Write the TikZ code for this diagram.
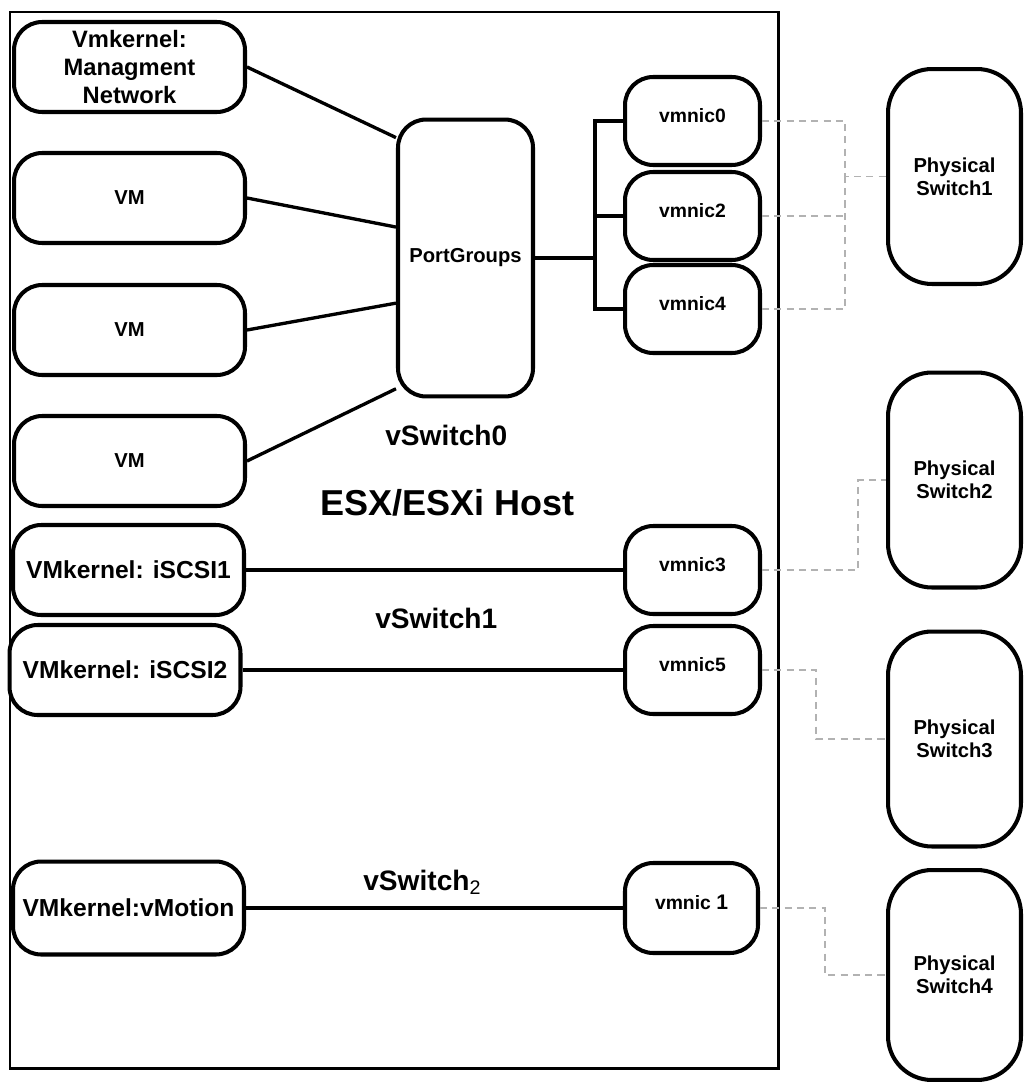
\documentclass[tikz,border=0pt]{standalone}
\usepackage{fontspec}
\setmainfont{Liberation Sans}
\newcommand{\nictext}[1]{\raisebox{6pt}{#1}}
\tikzset{
  box/.style={draw, line width=2.3pt, rounded corners=16pt, align=center, inner sep=2pt},
  leftbox/.style={box, minimum width=4.62cm, minimum height=1.8cm},
  vmbox/.style={leftbox, font=\bfseries\fontsize{11.5}{13}\selectfont},
  kernbox/.style={leftbox, font=\bfseries\fontsize{14}{17}\selectfont},
  pgbox/.style={box, minimum width=2.7cm, minimum height=5.54cm, font=\bfseries\fontsize{11.5}{14}\selectfont},
  nicbox/.style={box, minimum width=2.7cm, minimum height=1.76cm, font=\bfseries\fontsize{11}{13}\selectfont},
  physbox/.style={box, rounded corners=25pt, minimum width=2.66cm, minimum height=4.3cm, font=\bfseries\fontsize{11.5}{13}\selectfont},
  link/.style={line width=1.9pt},
  uplink/.style={gray!60, line width=0.7pt, dash pattern=on 4pt off 3pt},
  swlabel/.style={anchor=base west, inner sep=0pt, font=\bfseries\fontsize{16}{19}\selectfont},
  hostlabel/.style={anchor=base west, inner sep=0pt, font=\bfseries\fontsize{20.5}{24}\selectfont}
}
\begin{document}
\begin{tikzpicture}[x=0.02cm, y=-0.02cm]
    \useasboundingbox (0,0) rectangle (1027,1082);
    % Host frame
    \draw[line width=1.7pt] (10,12) rectangle (778,1068);

    % vSwitch0
    \node[leftbox, font=\bfseries\fontsize{13.5}{16}\selectfont] (mgmt) at (129.5,67) {Vmkernel:\\Managment\\Network};
    \node[vmbox] (vma) at (129.5,198) {VM};
    \node[vmbox] (vmb) at (129.5,330) {VM};
    \node[vmbox] (vmc) at (129.5,461) {VM};
    \node[pgbox] (pg) at (465.5,258) {PortGroups};
    \node[nicbox] (nic0) at (692.5,121) {\nictext{vmnic0}};
    \node[nicbox] (nic2) at (692.5,216) {\nictext{vmnic2}};
    \node[nicbox] (nic4) at (692.5,309) {\nictext{vmnic4}};
    \draw[link] (mgmt.east) -- (pg.120);
    \draw[link] (vma.east) -- (pg.156);
    \draw[link] (vmb.east) -- (pg.213);
    \draw[link] (vmc.east) -- (pg.242);
    \coordinate (bus) at (595,258);
    \draw[link] (pg.east) -- (bus);
    \draw[link] (nic0.west) -| (bus) |- (nic4.west);
    \draw[link] (nic2.west) -- (nic2.west -| bus);
    \node[swlabel] (vsw0) at (385,445) {vSwitch0};
    \node[hostlabel] (host) at (320,515) {ESX/ESXi Host};

    % vSwitch1
    \node[kernbox] (iscsia) at (128.5,570) {VMkernel: iSCSI1};
    \node[kernbox] (iscsib) at (125,670) {VMkernel: iSCSI2};
    \node[nicbox] (nic3) at (692.5,570) {\nictext{vmnic3}};
    \node[nicbox] (nic5) at (692.5,670) {\nictext{vmnic5}};
    \draw[link] (iscsia.east) -- (nic3.west);
    \draw[link] (iscsib.east) -- (nic5.west);
    \node[swlabel] (vsw1) at (375,628) {vSwitch1};

    % vSwitch2
    \node[kernbox, minimum height=1.86cm] (vmotion) at (128.5,908) {VMkernel:vMotion};
    \node[nicbox, minimum width=2.66cm, minimum height=1.8cm] (nic1) at (691.5,908) {\nictext{vmnic {\large 1}}};
    \draw[link] (vmotion.east) -- (nic1.west);
    \node[swlabel] (vsw2) at (363,890) {vSwitch\textsubscript{\mdseries 2}};

    % Physical switches
    \node[physbox] (psa) at (954.5,176.5) {Physical\\Switch1};
    \node[physbox] (psb) at (954.5,480) {Physical\\Switch2};
    \node[physbox] (psc) at (954.5,739) {Physical\\Switch3};
    \node[physbox, minimum height=4.2cm] (psd) at (954.5,975) {Physical\\Switch{\large 4}};

    % Uplinks
    \coordinate (upa) at (845,176.5);
    \coordinate (upb) at (858,480);
    \coordinate (upc) at (816,739);
    \coordinate (upd) at (825,975);
    \draw[uplink] (nic0.east) -| (upa) -- (psa.west);
    \draw[uplink] (nic4.east) -| (upa);
    \draw[uplink] (nic2.east) -- (nic2.east -| upa);
    \draw[uplink] (nic3.east) -| (upb) -- (psb.west);
    \draw[uplink] (nic5.east) -| (upc) -- (psc.west);
    \draw[uplink] (nic1.east) -| (upd) -- (psd.west);
\end{tikzpicture}
\end{document}
